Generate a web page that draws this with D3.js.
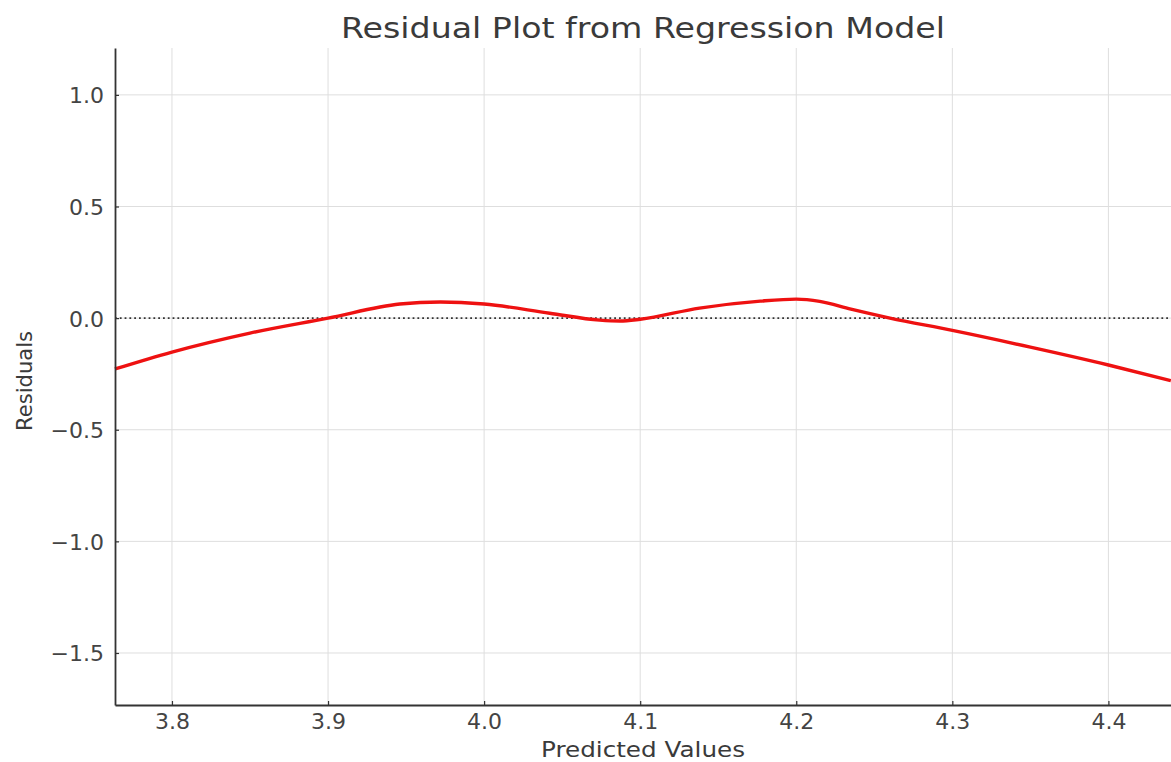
<!DOCTYPE html>
<html>
<head>
<meta charset="utf-8">
<script src="https://cdn.jsdelivr.net/npm/d3@7"></script>
<style>
  html, body { margin: 0; padding: 0; background: #fff; }
  svg { display: block; font-family: "DejaVu Sans", sans-serif; }
</style>
</head>
<body>
<svg id="chart" width="1171" height="762"></svg>
<script>
// Data (LOWESS curve of residuals)
const predicted = [3.7635, 3.8, 3.85, 3.9, 3.946, 3.972, 4.0, 4.042, 4.074, 4.087, 4.1, 4.138, 4.177, 4.2, 4.215, 4.235, 4.26, 4.3, 4.35, 4.4, 4.44];
const residuals = [-0.228, -0.152, -0.067, 0.0, 0.063, 0.072, 0.063, 0.022, -0.009, -0.013, -0.005, 0.045, 0.076, 0.085, 0.075, 0.04, 0.0, -0.055, -0.13, -0.21, -0.28];
const xTicks = [3.8, 3.9, 4.0, 4.1, 4.2, 4.3, 4.4];
const yTicks = [-1.5, -1.0, -0.5, 0.0, 0.5, 1.0];
const titleText = "Residual Plot from Regression Model";
const xLabel = "Predicted Values";
const yLabel = "Residuals";

const svg = d3.select("#chart");
const m = { left: 115, top: 48, right: 1171, bottom: 705 };

const x = d3.scaleLinear().domain([3.7635, 4.4401]).range([m.left, m.right]);
const y = d3.scaleLinear().domain([-1.733, 1.21]).range([m.bottom, m.top]);

// grid
svg.append("g").selectAll("line").data(xTicks).join("line")
  .attr("x1", d => x(d)).attr("x2", d => x(d))
  .attr("y1", m.top).attr("y2", m.bottom)
  .attr("stroke", "#dedede").attr("stroke-width", 1);
svg.append("g").selectAll("line").data(yTicks).join("line")
  .attr("x1", m.left).attr("x2", m.right)
  .attr("y1", d => y(d)).attr("y2", d => y(d))
  .attr("stroke", "#dedede").attr("stroke-width", 1);

// zero reference line (dotted)
svg.append("line")
  .attr("x1", m.left).attr("x2", m.right)
  .attr("y1", y(0)).attr("y2", y(0))
  .attr("stroke", "#333").attr("stroke-width", 1.8)
  .attr("stroke-dasharray", "1.8,3");

// LOWESS line
const pts = predicted.map((p, i) => [p, residuals[i]]);
svg.append("path")
  .datum(pts)
  .attr("fill", "none")
  .attr("stroke", "#ee1111")
  .attr("stroke-width", 3.4)
  .attr("d", d3.line().x(d => x(d[0])).y(d => y(d[1])).curve(d3.curveMonotoneX));

// axes
const xAxis = d3.axisBottom(x).tickValues(xTicks).tickFormat(d3.format(".1f")).tickSizeInner(-4).tickSizeOuter(0).tickPadding(8);
const yAxis = d3.axisLeft(y).tickValues(yTicks).tickFormat(d => d3.format(".1f")(d).replace("-", "\u2212")).tickSizeInner(-4).tickSizeOuter(0).tickPadding(11);

const gx = svg.append("g").attr("transform", `translate(0,${m.bottom})`).call(xAxis);
const gy = svg.append("g").attr("transform", `translate(${m.left},0)`).call(yAxis);
[gx, gy].forEach(g => {
  g.select(".domain").attr("stroke", "#333").attr("stroke-width", 1.8);
  g.selectAll(".tick line").attr("stroke", "#333").attr("stroke-width", 1.2);
  g.selectAll(".tick text").attr("fill", "#444").attr("font-size", 22).attr("font-family", "DejaVu Sans");
});
gy.selectAll(".tick text").attr("dy", "0.36em");

// title & labels
svg.append("text").attr("x", (m.left + m.right) / 2).attr("y", 38)
  .attr("text-anchor", "middle").attr("font-size", 28).attr("fill", "#3a3a3a")
  .attr("textLength", 604).attr("lengthAdjust", "spacingAndGlyphs").text(titleText);
svg.append("text").attr("x", (m.left + m.right) / 2).attr("y", 757)
  .attr("text-anchor", "middle").attr("font-size", 20.5).attr("fill", "#3a3a3a")
  .attr("textLength", 204).attr("lengthAdjust", "spacingAndGlyphs").text(xLabel);
svg.append("text").attr("transform", `translate(32,381) rotate(-90)`)
  .attr("text-anchor", "middle").attr("font-size", 20.5).attr("fill", "#3a3a3a")
  .attr("textLength", 100).attr("lengthAdjust", "spacingAndGlyphs").text(yLabel);
</script>
</body>
</html>
